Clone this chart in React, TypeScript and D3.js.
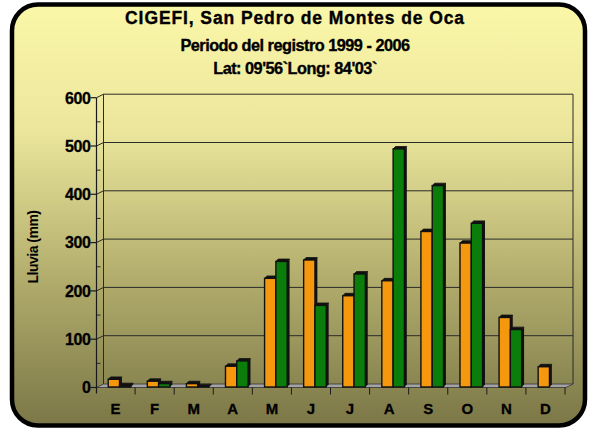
import React from "react";
import * as d3 from "d3";

const months = ["E", "F", "M", "A", "M", "J", "J", "A", "S", "O", "N", "D"];
const seriesA = [17, 13, 8, 44, 226, 264, 190, 221, 323, 299, 145, 43];
const seriesB = [4, 8, 2, 55, 261, 170, 235, 494, 418, 340, 120, 0];
const yTicks = [0, 100, 200, 300, 400, 500, 600];
const titleLines = [
  "CIGEFI, San Pedro de Montes de Oca",
  "Periodo del registro 1999 - 2006",
  "Lat: 09'56`Long: 84'03`",
];

const W = 590;
const H = 430;
const DX = 7;
const DY = -3.5;
const ORANGE = "#f6980e";
const GREEN = "#0b7d0b";
const FONT = "'Liberation Sans', Arial, sans-serif";

export default function App() {
  const idx = months.map((_, i) => i);
  const x = d3.scaleBand<number>().domain(idx).range([96, 565]).paddingInner(0).paddingOuter(0);
  const y = d3.scaleLinear().domain([0, 600]).range([387.5, 97.7]);
  const minor = d3.range(50, 600, 100);
  const bw = 11.3;
  const bd = 2.4;

  const bar = (cx: number, v: number, color: string, key: string) => {
    if (v <= 0) return null;
    const x0 = cx;
    const x1 = cx + bw;
    const top = y(v);
    const base = y(0) - 0.5;
    return (
      <g key={key}>
        <path
          d={`M${x1},${base}L${x1 + bd},${base - bd}L${x1 + bd},${top - bd}L${x1},${top}Z`}
          fill="#111"
        />
        <path
          d={`M${x0},${top}L${x0 + bd},${top - bd}L${x1 + bd},${top - bd}L${x1},${top}Z`}
          fill="#111"
          stroke="#111"
          strokeWidth={0.8}
        />
        <rect x={x0} y={top} width={bw} height={Math.max(0, base - top)} fill={color} stroke="#111" strokeWidth={1.4} />
      </g>
    );
  };

  const frontL = 96.5;
  const frontR = 566;
  const y0 = y(0);

  const titleCfg = [
    { y: 24, size: 17.5, ls: 0.9 },
    { y: 51, size: 16.3, ls: -0.5 },
    { y: 74, size: 16.3, ls: -0.5 },
  ];

  return (
    <svg width={W} height={H} style={{ position: "absolute", left: 0, top: 0 }} xmlns="http://www.w3.org/2000/svg">
      <defs>
        <linearGradient id="bg" x1="0" y1="0" x2="0" y2="1">
          <stop offset="0" stopColor="#fbf7a8" />
          <stop offset="0.3" stopColor="#ebe69c" />
          <stop offset="0.65" stopColor="#b2ad6c" />
          <stop offset="1" stopColor="#7b7747" />
        </linearGradient>
      </defs>
      <rect x={0} y={0} width={W} height={H} fill="#ffffff" />
      <rect x={12} y={4.5} width={573} height={421} rx={26} ry={26} fill="url(#bg)" stroke="#000" strokeWidth={4.5} />

      {titleLines.map((t, i) => (
        <text
          key={i}
          x={295}
          y={titleCfg[i].y}
          textAnchor="middle"
          fontFamily={FONT}
          fontWeight="bold"
          fontSize={titleCfg[i].size}
          letterSpacing={titleCfg[i].ls}
          fill="#000"
          stroke="#000"
          strokeWidth={0.35}
        >
          {t}
        </text>
      ))}

      {yTicks.filter((t) => t > 0).map((t) => (
        <g key={"g" + t}>
          <line x1={frontL + DX} x2={frontR + DX} y1={y(t) + DY} y2={y(t) + DY} stroke="#2a2a2a" strokeWidth={1} />
          <line x1={frontL} x2={frontL + DX} y1={y(t)} y2={y(t) + DY} stroke="#2a2a2a" strokeWidth={1} />
        </g>
      ))}
      <line x1={frontL + DX} x2={frontL + DX} y1={y(600) + DY} y2={y0 + DY} stroke="#2a2a2a" strokeWidth={1} />
      <line x1={frontR + DX} x2={frontR + DX} y1={y(600) + DY} y2={y0 + DY} stroke="#2a2a2a" strokeWidth={1} />

      <path
        d={`M${frontL},${y0}L${frontL + DX},${y0 + DY}L${frontR + DX},${y0 + DY}L${frontR},${y0}Z`}
        fill="#a3a3a3"
        stroke="#333"
        strokeWidth={0.8}
      />

      {minor.map((t) => (
        <line key={"m" + t} x1={frontL} x2={frontL + 4} y1={y(t)} y2={y(t)} stroke="#2a2a2a" strokeWidth={1} />
      ))}

      <line x1={frontL} x2={frontL} y1={y(600)} y2={y0 + 6} stroke="#1a1a1a" strokeWidth={1.2} />
      {yTicks.map((t) => (
        <g key={"t" + t}>
          <line x1={frontL - 6} x2={frontL} y1={y(t)} y2={y(t)} stroke="#1a1a1a" strokeWidth={1.2} />
          <text
            x={frontL - 6}
            y={y(t) + 5.8}
            textAnchor="end"
            fontFamily={FONT}
            fontWeight="bold"
            fontSize={16}
            letterSpacing={-0.4}
            fill="#000"
            stroke="#000"
            strokeWidth={0.3}
          >
            {t}
          </text>
        </g>
      ))}

      {idx.map((i) => (
        <line
          key={"xt" + i}
          x1={(x(i) as number) + x.bandwidth()}
          x2={(x(i) as number) + x.bandwidth()}
          y1={y0}
          y2={y0 + 7}
          stroke="#1a1a1a"
          strokeWidth={1}
        />
      ))}
      {months.map((m, i) => (
        <text
          key={"xl" + i}
          x={(x(i) as number) + x.bandwidth() / 2}
          y={414}
          textAnchor="middle"
          fontFamily={FONT}
          fontWeight="bold"
          fontSize={15}
          fill="#000"
          stroke="#000"
          strokeWidth={0.3}
        >
          {m}
        </text>
      ))}

      {idx.map((i) => {
        const c = (x(i) as number) + x.bandwidth() / 2 + 4;
        return (
          <g key={"b" + i}>
            {bar(c - bw, seriesA[i], ORANGE, "a" + i)}
            {bar(c, seriesB[i], GREEN, "b" + i)}
          </g>
        );
      })}

      <text
        transform="translate(38,247) rotate(-90)"
        textAnchor="middle"
        fontFamily={FONT}
        fontWeight="bold"
        fontSize={14}
        letterSpacing={-0.5}
        fill="#000"
      >
        Lluvia (mm)
      </text>
    </svg>
  );
}
